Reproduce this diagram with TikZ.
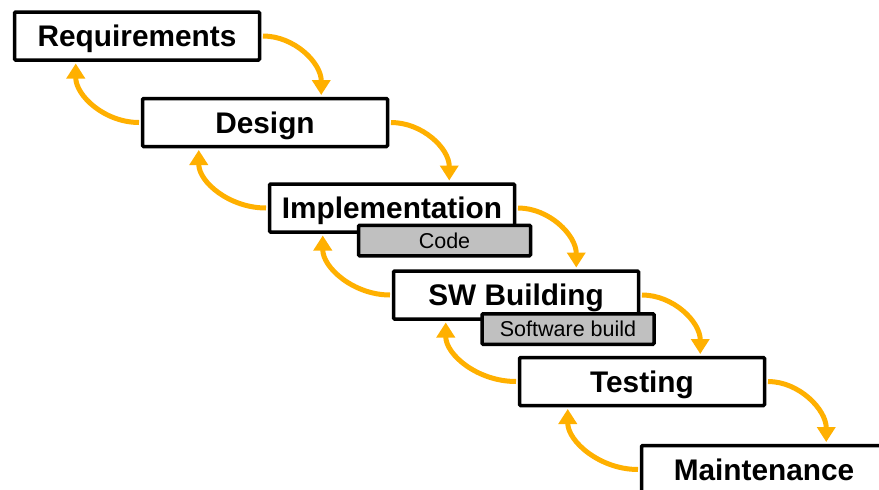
\documentclass[tikz,border=0pt]{standalone}
\usepackage{fontspec}
\setmainfont{Liberation Sans}
\usetikzlibrary{arrows.meta}
\definecolor{flow}{RGB}{255,176,0}
\definecolor{subfill}{RGB}{192,192,192}

\begin{document}
\begin{tikzpicture}[x=1pt,y=-1pt,
  phase/.style={draw=black, line width=3.5pt, fill=white, rounded corners=1.2pt,
    minimum width=245pt, minimum height=48pt, inner sep=0pt,
    text height=21.3pt, text depth=0pt,
    font=\fontsize{29.8}{33}\selectfont\bfseries},
  artifact/.style={draw=black, line width=3.5pt, fill=subfill, rounded corners=1.2pt,
    minimum width=172pt, minimum height=30.5pt, inner sep=0pt,
    text height=15.4pt, text depth=0pt,
    font=\fontsize{21.5}{24}\selectfont},
  flowline/.style={draw=flow, line width=5pt,
    -{Triangle[length=15pt,width=18pt]},
    shorten <=1.75pt, shorten >=1.75pt},
]
\clip (0,0) rectangle (879,490);

% process phases, one step down and to the right each
\node[phase] (req)  at (137,36)    {Requirements};
\node[phase] (des)  at (265,122.5) {Design};
\node[phase] (impl) at (392,208)   {Implementation};
\node[phase] (swb)  at (516,295)   {SW Building};
\node[phase] (test) at (642,381.5) {Testing};
\node[phase] (mnt)  at (764,469.5) {Maintenance};

% work products attached below two of the phases
\node[artifact] (code)  at (444.5,240.5) {Code};
\node[artifact] (build) at (568,329)     {Software build};

% forward flow: right side of a phase to the top of the next one
\foreach \a/\b in {req/des, des/impl, impl/swb, swb/test, test/mnt}{
  \coordinate (f-\a) at ([xshift=60pt]\a.east |- \b.north);
  \draw[flowline] (\a.east) .. controls +(33,0) and +(0,-34) .. (f-\a);
}

% feedback: left side of a phase back up to the bottom of the previous one
\foreach \b/\a/\d/\c in {des/req/65/36, impl/des/69/38, swb/impl/69/38, test/swb/72/40, mnt/test/72/40}{
  \coordinate (b-\b) at ([xshift=-\d pt]\b.west |- \a.south);
  \draw[flowline] (\b.west) .. controls +(-\c,0) and +(0,34) .. (b-\b);
}
\end{tikzpicture}
\end{document}
